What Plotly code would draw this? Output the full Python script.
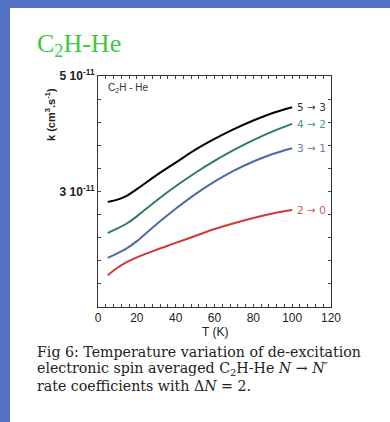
import plotly.graph_objects as go

# Data (rate coefficients in units of 1e-11 cm^3 s^-1)
T = [5, 10, 15, 20, 30, 40, 50, 60, 70, 80, 90, 100]
k_53 = [2.82, 2.86, 2.93, 3.04, 3.28, 3.50, 3.72, 3.91, 4.08, 4.23, 4.36, 4.46]
k_42 = [2.28, 2.36, 2.45, 2.57, 2.84, 3.09, 3.32, 3.53, 3.72, 3.89, 4.04, 4.17]
k_31 = [1.85, 1.93, 2.02, 2.14, 2.43, 2.70, 2.95, 3.17, 3.36, 3.52, 3.65, 3.75]
k_20 = [1.55, 1.68, 1.78, 1.86, 1.99, 2.11, 2.23, 2.35, 2.45, 2.54, 2.62, 2.68]
labels = ["5 → 3", "4 → 2", "3 → 1", "2 → 0"]
line_colors = ["#000000", "#2f7d57", "#4d6aa6", "#cc3a3a"]
label_colors = ["#333333", "#4a9a70", "#6a7fa8", "#d05858"]
x_ticks = [0, 20, 40, 60, 80, 100, 120]
y_ticks = [3.0, 5.0]
y_tick_text = ["3 10<sup>-11</sup>", "5 10<sup>-11</sup>"]

W, H = 390, 422
L, R, TOP, BOT = 98, 331, 76, 307


def px(x):
    return (x - L) / (R - L)


def py(y):
    return (BOT - y) / (BOT - TOP)


fig = go.Figure()
series = [k_53, k_42, k_31, k_20]
for vals, name, c in zip(series, labels, line_colors):
    fig.add_trace(go.Scatter(
        x=T, y=[v * 1e-11 for v in vals], mode="lines", name=name,
        line=dict(color=c, width=2, shape="spline", smoothing=0.8),
        showlegend=False, hoverinfo="skip"))

for vals, name, c in zip(series, labels, label_colors):
    fig.add_annotation(x=T[-1], y=vals[-1] * 1e-11, xref="x", yref="y",
                       text=name, showarrow=False, xanchor="left", xshift=3,
                       font=dict(family="DejaVu Sans", size=10.5, color=c))

fig.update_xaxes(range=[0, 120], tickvals=x_ticks, ticks="inside",
                 ticklen=3, tickcolor="#444", showline=True, linecolor="#333",
                 linewidth=1, mirror="allticks", showgrid=False, zeroline=False,
                 minor=dict(dtick=4, tick0=0, ticks="inside", ticklen=3,
                            tickcolor="#444", showgrid=False),
                 tickfont=dict(family="Liberation Sans", size=12, color="#222"))
fig.update_yaxes(range=[1e-11, 5e-11], tickvals=[v * 1e-11 for v in y_ticks],
                 ticktext=["<b>" + t + "</b>" for t in y_tick_text],
                 ticks="inside", ticklen=3, tickcolor="#444",
                 showline=True, linecolor="#333", linewidth=1, mirror="allticks",
                 showgrid=False, zeroline=False,
                 minor=dict(dtick=0.4e-11, tick0=1e-11, ticks="inside", ticklen=3,
                            tickcolor="#444", showgrid=False),
                 tickfont=dict(family="Liberation Sans", size=12, color="#222"))

# blue slide border
blue = "#5372c3"
fig.add_shape(type="rect", xref="paper", yref="paper", x0=px(-5), x1=px(W + 5),
              y0=py(8), y1=py(-5), fillcolor=blue, line_width=0, layer="above")
fig.add_shape(type="rect", xref="paper", yref="paper", x0=px(-5), x1=px(10),
              y0=py(H + 5), y1=py(-5), fillcolor=blue, line_width=0, layer="above")

cap_font = dict(family="DejaVu Serif", size=14.2, color="#222")
ann = [
    dict(x=px(35), y=py(45), text="C<sub>2</sub>H-He", xanchor="left", yanchor="middle",
         font=dict(family="Liberation Serif", size=26, color="#3fc83f")),
    dict(x=px(106), y=py(88), text="C<sub>2</sub>H - He", xanchor="left", yanchor="middle",
         font=dict(family="Liberation Sans", size=10, color="#333")),
    dict(x=px(50), y=py(115), text="<b>k (cm<sup>3</sup>.s<sup>-1</sup>)</b>", textangle=-90,
         xanchor="center", yanchor="middle",
         font=dict(family="Liberation Sans", size=11, color="#222")),
    dict(x=px(215), y=py(332), text="T (K)", xanchor="center", yanchor="middle",
         font=dict(family="Liberation Sans", size=12, color="#222")),
    dict(x=px(35), y=py(352), text="Fig 6: Temperature variation of de-excitation",
         xanchor="left", yanchor="middle", font=cap_font),
    dict(x=px(35), y=py(369),
         text="electronic spin averaged C<sub>2</sub>H-He <i>N</i> → <i>N′</i>",
         xanchor="left", yanchor="middle", font=cap_font),
    dict(x=px(35), y=py(386), text="rate coefficients with Δ<i>N</i> = 2.",
         xanchor="left", yanchor="middle", font=cap_font),
]
for a in ann:
    fig.add_annotation(xref="paper", yref="paper", showarrow=False, **a)

fig.update_layout(width=W, height=H, margin=dict(l=L, r=W - R, t=TOP, b=H - BOT),
                  paper_bgcolor="white", plot_bgcolor="white")
fig.write_html("out.html", config={"displayModeBar": False},
               post_script="document.body.style.margin='0';document.body.style.overflow='hidden';")
